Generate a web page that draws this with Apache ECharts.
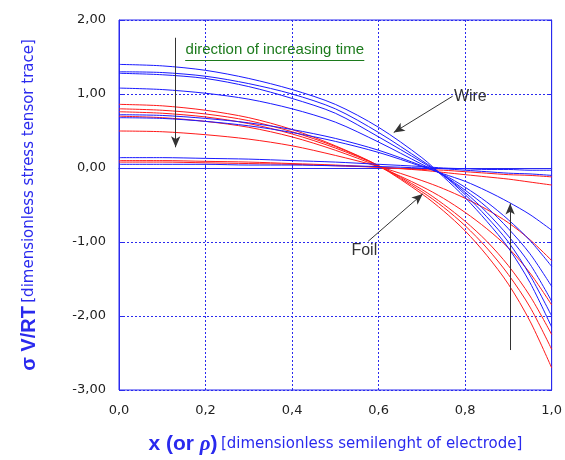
<!DOCTYPE html>
<html>
<head>
<meta charset="utf-8">
<script src="https://cdn.jsdelivr.net/npm/echarts@6/dist/echarts.min.js"></script>
<style>
  html, body { margin: 0; padding: 0; background: #fff; }
  #chart { width: 565px; height: 460px; }
</style>
</head>
<body>
<div id="chart"></div>
<script>
// x positions (dimensionless semilength)
const xPts = [0, 0.1, 0.2, 0.3, 0.4, 0.5, 0.6, 0.7, 0.75, 0.8, 0.85, 0.9, 0.95, 1.0];

// wire (blue) curves
const wire1 = [1.40, 1.38, 1.32, 1.21, 1.06, 0.86, 0.55, 0.14, -0.12, -0.40, -0.72, -1.08, -1.55, -2.15];
const wire2 = [1.30, 1.29, 1.24, 1.14, 1.00, 0.80, 0.48, 0.10, -0.10, -0.36, -0.66, -1.00, -1.45, -2.00];
const wire3 = [1.28, 1.26, 1.21, 1.10, 0.94, 0.74, 0.42, 0.08, -0.10, -0.33, -0.60, -0.92, -1.30, -1.80];
const wire4 = [1.08, 1.06, 1.01, 0.93, 0.80, 0.62, 0.35, 0.05, -0.10, -0.30, -0.53, -0.82, -1.16, -1.60];
const wire5 = [0.72, 0.71, 0.67, 0.61, 0.52, 0.40, 0.24, 0.03, -0.09, -0.26, -0.46, -0.70, -0.98, -1.33];
const wire6 = [0.68, 0.67, 0.63, 0.57, 0.48, 0.36, 0.21, 0.02, -0.08, -0.18, -0.31, -0.46, -0.63, -0.84];
const wire7 = [0.14, 0.14, 0.13, 0.12, 0.10, 0.08, 0.05, 0.02, 0.00, -0.01, -0.02, -0.02, -0.03, -0.03];
const wire8 = [0.05, 0.05, 0.05, 0.04, 0.04, 0.03, 0.02, 0.00, -0.01, -0.03, -0.05, -0.07, -0.08, -0.10];

// foil (red) curves
const foil1 = [0.86, 0.84, 0.78, 0.68, 0.52, 0.30, 0.03, -0.35, -0.58, -0.85, -1.18, -1.57, -2.07, -2.70];
const foil2 = [0.80, 0.78, 0.73, 0.64, 0.49, 0.29, 0.03, -0.32, -0.53, -0.78, -1.08, -1.44, -1.88, -2.45];
const foil3 = [0.76, 0.74, 0.69, 0.60, 0.46, 0.27, 0.03, -0.29, -0.49, -0.72, -0.99, -1.32, -1.73, -2.25];
const foil4 = [0.70, 0.68, 0.63, 0.55, 0.42, 0.24, 0.02, -0.25, -0.41, -0.60, -0.82, -1.08, -1.42, -1.85];
const foil5 = [0.50, 0.49, 0.45, 0.39, 0.30, 0.17, 0.02, -0.17, -0.28, -0.41, -0.56, -0.74, -0.97, -1.25];
const foil6 = [0.10, 0.10, 0.09, 0.08, 0.06, 0.04, 0.01, -0.03, -0.06, -0.09, -0.12, -0.15, -0.19, -0.23];
const foil7 = [0.08, 0.08, 0.07, 0.06, 0.05, 0.03, 0.01, -0.02, -0.03, -0.05, -0.07, -0.09, -0.10, -0.12];

const wires = [wire1, wire2, wire3, wire4, wire5, wire6, wire7, wire8];
const foils = [foil1, foil2, foil3, foil4, foil5, foil6, foil7];

// annotations, in data units
const arrows = [
  [[0.131, 1.76], [0.131, 0.28]],   // time arrow, left
  [[0.904, -2.46], [0.904, -0.48]], // time arrow, right
  [[0.771, 0.97], [0.635, 0.48]],   // Wire pointer
  [[0.576, -0.99], [0.702, -0.35]]  // Foil pointer
];
const notes = [
  { text: 'Wire', at: [0.812, 0.965], color: '#333', size: 16 },
  { text: 'Foil', at: [0.567, -1.12], color: '#333', size: 16 },
  { text: 'direction of increasing time', at: [0.36, 1.59], color: '#1c7a1c', size: 15 }
];
const underline = [[0.153, 1.46], [0.567, 1.46]];

const BLUE = '#1a1aff';
const RED = '#ff1a1a';
const AXIS_BLUE = '#2a2aee';

const pair = arr => arr.map((v, i) => [xPts[i], v]);

const series = [];
foils.forEach((f, i) => series.push({
  name: 'foil' + (i + 1), type: 'line', data: pair(f), showSymbol: false, smooth: 0.3,
  lineStyle: { color: RED, width: 1 }, z: 2
}));
wires.forEach((w, i) => series.push({
  name: 'wire' + (i + 1), type: 'line', data: pair(w), showSymbol: false, smooth: 0.3,
  lineStyle: { color: BLUE, width: 1 }, z: 3
}));
series.push({
  name: 'notes', type: 'line', data: [], z: 5,
  markLine: {
    silent: true, symbol: ['none', 'arrow'], symbolSize: [7, 11],
    lineStyle: { color: '#333', width: 1, type: 'solid' },
    label: { show: false },
    data: arrows.map(a => [{ coord: a[0] }, { coord: a[1] }])
      .concat([[{ coord: underline[0], symbol: 'none', lineStyle: { color: '#1c7a1c', width: 1 } },
                { coord: underline[1], symbol: 'none' }]])
  },
  markPoint: {
    silent: true, symbol: 'circle', symbolSize: 0,
    data: notes.map(n => ({
      coord: n.at,
      label: { show: true, formatter: n.text, color: n.color, fontSize: n.size, fontFamily: 'Liberation Sans', position: 'inside' }
    }))
  }
});

const chart = echarts.init(document.getElementById('chart'));
chart.setOption({
  animation: false,
  backgroundColor: '#fff',
  grid: { left: 119, top: 20, right: 10, bottom: 68, show: true, borderColor: AXIS_BLUE, borderWidth: 1 },
  xAxis: {
    type: 'value', min: 0, max: 1, interval: 0.2,
    name: '{b|x (or }{i|ρ}{b|)} {n|[dimensionless semilenght of electrode]}',
    nameLocation: 'middle', nameGap: 44,
    nameTextStyle: {
      rich: {
        b: { fontSize: 21, fontWeight: 'bold', color: AXIS_BLUE, fontFamily: 'Liberation Sans' },
        i: { fontSize: 21, fontWeight: 'bold', fontStyle: 'italic', color: AXIS_BLUE, fontFamily: 'Liberation Serif' },
        n: { fontSize: 15, color: AXIS_BLUE, fontFamily: 'DejaVu Sans' }
      }
    },
    axisLine: { lineStyle: { color: AXIS_BLUE, width: 1 } },
    axisTick: { inside: true, length: 4, lineStyle: { color: AXIS_BLUE } },
    axisLabel: { fontSize: 13, color: '#222', fontFamily: 'DejaVu Sans', margin: 14,
      formatter: v => v.toFixed(1).replace('.', ',') },
    splitLine: { lineStyle: { color: AXIS_BLUE, type: [2, 2], width: 1 } }
  },
  yAxis: [{
    type: 'value', min: -3, max: 2, interval: 1,
    name: '{b|σ V/RT} {n|[dimensionless stress tensor trace]}',
    nameLocation: 'middle', nameGap: 80,
    nameTextStyle: {
      rich: {
        b: { fontSize: 20, fontWeight: 'bold', color: AXIS_BLUE, fontFamily: 'Liberation Sans' },
        n: { fontSize: 15, color: AXIS_BLUE, fontFamily: 'DejaVu Sans' }
      }
    },
    axisLine: { lineStyle: { color: AXIS_BLUE, width: 1 } },
    axisTick: { inside: true, length: 4, lineStyle: { color: AXIS_BLUE } },
    axisLabel: { fontSize: 13, color: '#222', fontFamily: 'DejaVu Sans', margin: 13,
      formatter: v => v.toFixed(2).replace('.', ',') },
    splitLine: { lineStyle: { color: AXIS_BLUE, type: [2, 2], width: 1 } }
  }, {
    type: 'value', min: -3, max: 2, interval: 1, position: 'right',
    axisLine: { show: true, lineStyle: { color: AXIS_BLUE } },
    axisTick: { inside: true, length: 4, lineStyle: { color: AXIS_BLUE } },
    axisLabel: { show: false }, splitLine: { show: false }
  }],
  series: series
});
</script>
</body>
</html>
